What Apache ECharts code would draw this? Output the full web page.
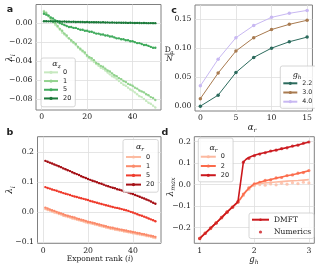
<!DOCTYPE html>
<html><head><meta charset="utf-8">
<script src="https://cdn.jsdelivr.net/npm/echarts@6/dist/echarts.min.js"></script>
<style>html,body{margin:0;padding:0;background:#fff}#c{width:315px;height:265px}</style>
</head><body><div id="c"></div>
<script>
// ---------- DATA ----------
const rank = [1,2,3,4,5,6,7,8,9,10,11,12,13,14,15,16,17,18,19,20,21,22,23,24,25,26,27,28,29,30,31,32,33,34,35,36,37,38,39,40,41,42,43,44,45,46,47,48,49,50];

// panel a: alpha_z
const alphaZ = ['0','1','5','20'];
const a0 = [0.013,0.010,0.007,0.005,0.001,-0.002,-0.004,-0.007,-0.010,-0.012,-0.014,-0.016,-0.019,-0.021,-0.023,-0.026,-0.028,-0.030,-0.032,-0.035,-0.037,-0.039,-0.041,-0.043,-0.045,-0.047,-0.048,-0.050,-0.052,-0.054,-0.056,-0.057,-0.059,-0.061,-0.063,-0.065,-0.066,-0.068,-0.070,-0.071,-0.073,-0.075,-0.077,-0.078,-0.080,-0.082,-0.084,-0.085,-0.087,-0.089];
const a1 = [0.012,0.011,0.008,0.005,0.002,0.000,-0.003,-0.006,-0.008,-0.011,-0.013,-0.016,-0.018,-0.020,-0.022,-0.025,-0.027,-0.029,-0.031,-0.034,-0.036,-0.037,-0.039,-0.042,-0.043,-0.045,-0.046,-0.048,-0.050,-0.051,-0.053,-0.055,-0.056,-0.058,-0.059,-0.061,-0.062,-0.064,-0.065,-0.066,-0.068,-0.069,-0.071,-0.072,-0.073,-0.075,-0.076,-0.078,-0.079,-0.081];
const a5 = [0.010,0.009,0.008,0.006,0.005,0.003,0.002,0.000,-0.001,-0.002,-0.003,-0.004,-0.004,-0.005,-0.005,-0.006,-0.007,-0.007,-0.008,-0.008,-0.009,-0.009,-0.010,-0.011,-0.011,-0.012,-0.012,-0.013,-0.013,-0.014,-0.014,-0.015,-0.016,-0.016,-0.017,-0.017,-0.018,-0.018,-0.019,-0.019,-0.020,-0.021,-0.021,-0.022,-0.023,-0.023,-0.024,-0.025,-0.026,-0.026];
const a20 = [0.0020,0.0021,0.0019,0.0020,0.0018,0.0019,0.0017,0.0018,0.0016,0.0017,0.0015,0.0016,0.0014,0.0015,0.0013,0.0014,0.0012,0.0013,0.0011,0.0012,0.0010,0.0011,0.0010,0.0009,0.0010,0.0008,0.0009,0.0007,0.0008,0.0006,0.0007,0.0006,0.0005,0.0006,0.0004,0.0005,0.0004,0.0003,0.0004,0.0003,0.0002,0.0003,0.0002,0.0001,0.0002,0.0001,0.0000,0.0001,0.0000,0.0000];

// panel b: alpha_r
const alphaRb = ['0','1','5','20'];
const b0 = [0.010,0.007,0.005,0.002,-0.001,-0.003,-0.006,-0.008,-0.012,-0.014,-0.016,-0.018,-0.021,-0.023,-0.025,-0.027,-0.029,-0.031,-0.034,-0.036,-0.037,-0.039,-0.041,-0.043,-0.045,-0.047,-0.049,-0.051,-0.053,-0.055,-0.056,-0.058,-0.059,-0.061,-0.062,-0.064,-0.065,-0.067,-0.068,-0.070,-0.071,-0.073,-0.074,-0.076,-0.077,-0.079,-0.080,-0.082,-0.084,-0.086];
const b1 = [0.015,0.012,0.009,0.006,0.004,0.001,-0.002,-0.004,-0.007,-0.010,-0.012,-0.014,-0.016,-0.018,-0.021,-0.023,-0.025,-0.027,-0.029,-0.032,-0.033,-0.035,-0.037,-0.039,-0.041,-0.043,-0.045,-0.047,-0.049,-0.051,-0.052,-0.054,-0.055,-0.057,-0.058,-0.060,-0.061,-0.063,-0.064,-0.066,-0.067,-0.069,-0.070,-0.072,-0.073,-0.075,-0.077,-0.078,-0.080,-0.082];
const b5 = [0.083,0.080,0.078,0.075,0.073,0.071,0.068,0.066,0.063,0.061,0.059,0.057,0.054,0.052,0.050,0.048,0.046,0.044,0.042,0.040,0.037,0.035,0.033,0.031,0.029,0.027,0.025,0.023,0.021,0.019,0.017,0.015,0.014,0.012,0.010,0.008,0.006,0.004,0.001,-0.001,-0.004,-0.007,-0.010,-0.012,-0.015,-0.018,-0.021,-0.024,-0.027,-0.030];
const b20 = [0.170,0.167,0.164,0.161,0.158,0.155,0.152,0.149,0.145,0.142,0.139,0.136,0.132,0.129,0.126,0.123,0.119,0.116,0.113,0.110,0.107,0.104,0.102,0.099,0.096,0.094,0.091,0.088,0.086,0.083,0.081,0.079,0.076,0.074,0.072,0.069,0.067,0.065,0.062,0.060,0.057,0.054,0.051,0.048,0.045,0.042,0.039,0.035,0.031,0.028];

// panel c: D_a/N vs alpha_r
const alphaRc = [0,2.5,5,7.5,10,12.5,15];
const ghLabels = ['2.2','3.0','4.0'];
const c22 = [0.000,0.019,0.058,0.084,0.100,0.111,0.119];
const c30 = [0.013,0.057,0.095,0.118,0.132,0.141,0.148];
const c40 = [0.035,0.081,0.118,0.139,0.153,0.160,0.165];

// panel d: lambda_max vs g_h
const alphaRd = ['0','2','20'];
const dmftXa = [1.0,1.1,1.2,1.3,1.4,1.5,1.6,1.7,1.75,1.8,1.85,1.9,1.95,2.0,2.1,2.2,2.3,2.4,2.5,2.6,2.7,2.8,2.9,3.0];
const dmft0 = [-0.250,-0.226,-0.202,-0.178,-0.153,-0.128,-0.104,-0.080,-0.065,-0.048,-0.032,-0.019,-0.009,-0.001,0.005,0.008,0.010,0.012,0.014,0.016,0.018,0.019,0.021,0.023];
const dmft2 = [-0.250,-0.226,-0.202,-0.178,-0.153,-0.128,-0.104,-0.080,-0.064,-0.046,-0.030,-0.017,-0.006,0.003,0.011,0.018,0.024,0.030,0.035,0.041,0.046,0.052,0.058,0.064];
const dmftXb = [1.0,1.1,1.2,1.3,1.4,1.5,1.6,1.7,1.8,1.85,1.9,2.0,2.1,2.2,2.3,2.4,2.5,2.6,2.7,2.8,2.9,3.0];
const dmft20 = [-0.250,-0.226,-0.202,-0.178,-0.153,-0.128,-0.104,-0.080,0.105,0.118,0.126,0.136,0.143,0.149,0.155,0.161,0.166,0.172,0.178,0.184,0.191,0.198];
const numX = [1.0,1.1,1.2,1.3,1.4,1.5,1.6,1.7,1.8,1.9,2.0,2.1,2.2,2.3,2.4,2.5,2.6,2.7,2.8,2.9,3.0];
const num0 = [-0.248,-0.224,-0.203,-0.176,-0.152,-0.129,-0.102,-0.083,-0.050,-0.022,-0.004,0.000,-0.003,0.003,-0.001,0.006,0.002,0.009,0.005,0.011,0.008];
const num2 = [-0.251,-0.225,-0.204,-0.177,-0.155,-0.127,-0.105,-0.081,-0.044,-0.015,0.004,0.010,0.020,0.022,0.031,0.033,0.042,0.045,0.053,0.056,0.065];
const num20 = [-0.250,-0.227,-0.201,-0.179,-0.152,-0.128,-0.105,-0.079,0.104,0.122,0.134,0.142,0.148,0.156,0.160,0.167,0.171,0.179,0.183,0.192,0.198];

// tick labels
const ticksAX = [0,20,40], ticksAY = [-0.08,-0.06,-0.04,-0.02,0];
const ticksBY = [-0.1,0,0.1,0.2];
const ticksCX = [0,5,10,15], ticksCY = [0,0.05,0.10,0.15];
const ticksDX = [1,2,3], ticksDY = [-0.2,-0.1,0,0.1,0.2];

// ---------- STYLE ----------
const greens = ['#c7e9c0','#93d38f','#41ab5d','#1b7a3a'];
const reds = ['#fcbba1','#fb8a6a','#ef3b2c','#a50f15'];
const redsD = ['#fcb9a0','#fb6a4a','#cb181d'];
const cCols = ['#2c6b5d','#a87a4f','#c8b8f2'];
const SERIF = 'DejaVu Serif', SANS = 'DejaVu Sans';
const TXT = '#222';
const TICK = 7.7;

const ctx = document.createElement('canvas').getContext('2d');
function tw(t, style, size, fam){ ctx.font = style+' '+size+'px "'+fam+'"'; return ctx.measureText(t).width; }
function tx(x,y,text,size,o){ o=o||{}; return {type:'text', x:x, y:y, z:100, style:{text:text, fontSize:size, fontFamily:o.fam||SERIF, fontStyle:o.st||'normal', fontWeight:o.fw||'normal', fill:TXT, textAlign:o.al||'left', textVerticalAlign:'middle'}}; }
function subLabel(cx, cy, main, sub, size, o){
  o=o||{}; const ss = o.ss||size*0.7;
  const ms = o.mst||'italic', sst = o.sst||'italic';
  const w1 = tw(main, ms, size, SERIF), w2 = tw(sub, sst, ss, SERIF);
  const x0 = -(w1+w2)/2;
  return {type:'group', x:cx, y:cy, rotation:o.rot||0, z:100, children:[
    tx(x0,0,main,size,{st:ms}), tx(x0+w1,size*0.32,sub,ss,{st:sst})]};
}
function fmt(d){ return v => (v<0?'\u2212':'') + Math.abs(v).toFixed(d); }

function ax(gi,min,max,ticks,dec){ return {type:'value', gridIndex:gi, min:min, max:max,
  axisLine:{show:false}, axisTick:{show:false, customValues:ticks},
  axisLabel:{customValues:ticks, formatter:fmt(dec), fontFamily:SERIF, fontSize:TICK, color:TXT, margin:3.5},
  splitLine:{show:true, lineStyle:{color:'#dedede', width:0.8}}}; }

function pair(xs, ys){ return xs.map((x,i)=>[x, ys[i]]); }
function rankLine(name, ys, col, ai){ return {name:name, type:'line', xAxisIndex:ai, yAxisIndex:ai, data:pair(rank,ys),
  symbol:'circle', symbolSize:2.4, showSymbol:true, lineStyle:{width:1, color:col}, itemStyle:{color:col}}; }

const series = [];
[a0,a1,a5,a20].forEach((ys,i)=>series.push(rankLine('a'+alphaZ[i], ys, greens[i], 0)));
[b0,b1,b5,b20].forEach((ys,i)=>series.push(rankLine('b'+alphaRb[i], ys, reds[i], 1)));
[c22,c30,c40].forEach((ys,i)=>series.push({name:'c'+ghLabels[i], type:'line', xAxisIndex:2, yAxisIndex:2, data:pair(alphaRc,ys),
  symbol:'circle', symbolSize:3.5, lineStyle:{width:1, color:cCols[i]}, itemStyle:{color:cCols[i]}}));
[[dmftXa,dmft0],[dmftXa,dmft2],[dmftXb,dmft20]].forEach((p,i)=>series.push({name:'d'+alphaRd[i], type:'line', xAxisIndex:3, yAxisIndex:3,
  data:pair(p[0],p[1]), symbol:'none', lineStyle:{width:1.6, color:redsD[i]}, itemStyle:{color:redsD[i]}}));
[num0,num2,num20].forEach((ys,i)=>series.push({name: i===2?'Numerics':'n'+alphaRd[i], type:'scatter', xAxisIndex:3, yAxisIndex:3,
  data:pair(numX,ys), symbolSize:3.2, itemStyle:{color:redsD[i]}}));
series.push({name:'DMFT', type:'line', xAxisIndex:3, yAxisIndex:3, data:[], symbol:'none', lineStyle:{width:1.6,color:redsD[2]}, itemStyle:{color:redsD[2]}});

const legBase = {orient:'vertical', backgroundColor:'rgba(255,255,255,0.85)', borderColor:'#cccccc', borderWidth:0.8, borderRadius:2,
  selectedMode:false, formatter:n=>n.slice(1)};
const legends = [
  Object.assign({}, legBase, {left:41, top:58, padding:[10,4,4,2], itemWidth:14, itemHeight:4, itemGap:0,
    data:alphaZ.map(a=>'a'+a), textStyle:{fontFamily:SANS, fontSize:6.5, color:TXT, lineHeight:8.7}}),
  Object.assign({}, legBase, {left:123, top:139.5, padding:[12.9,4,3,2], itemWidth:15, itemHeight:4, itemGap:0,
    data:alphaRb.map(a=>'b'+a), textStyle:{fontFamily:SANS, fontSize:6.5, color:TXT, lineHeight:9.2}}),
  Object.assign({}, legBase, {left:280.3, top:66, padding:[12.7,4,2,2], itemWidth:14, itemHeight:4, itemGap:0,
    data:ghLabels.map(a=>'c'+a), textStyle:{fontFamily:SANS, fontSize:6.3, color:TXT, lineHeight:9.2}}),
  Object.assign({}, legBase, {left:198.3, top:138, padding:[14.1,4,2,1.5], itemWidth:15, itemHeight:4, itemGap:0,
    data:alphaRd.map(a=>'d'+a), textStyle:{fontFamily:SANS, fontSize:6.5, color:TXT, lineHeight:9.25}}),
  Object.assign({}, legBase, {left:249, top:213, padding:[2.2,3,2,2], itemWidth:17, itemHeight:3.2, itemGap:3.3,
    formatter:n=>n, data:['DMFT','Numerics'], textStyle:{fontFamily:SERIF, fontSize:7.5, color:TXT, lineHeight:9}})
];

const graphics = [
  tx(10,10,'a',9.5,{fam:SANS, fw:'bold', al:'center'}),
  tx(10,133,'b',9.5,{fam:SANS, fw:'bold', al:'center'}),
  tx(174,10.5,'c',9.5,{fam:SANS, fw:'bold', al:'center'}),
  tx(165,132.5,'d',9.5,{fam:SANS, fw:'bold', al:'center'}),
  subLabel(10,58,'\u03bb','i',9,{rot:Math.PI/2}),
  subLabel(10,190,'\u03bb','i',9,{rot:Math.PI/2}),
  subLabel(170.5,187,'\u03bb','max',9,{rot:Math.PI/2}),
  subLabel(56.5,64.3,'\u03b1','z',8),
  subLabel(140,146.5,'\u03b1','r',8),
  subLabel(297,74.5,'g','h',8),
  subLabel(213.5,147.5,'\u03b1','r',8),
  subLabel(252,127.5,'\u03b1','r',8.5),
  subLabel(254,259.5,'g','h',8.5),
  // D_a / N fraction
  tx(164.8,50.3,'D',7.5),
  tx(170.3,52.8,'a',5.5,{st:'italic'}),
  {type:'line', z:100, shape:{x1:164.6,y1:54.2,x2:174.6,y2:54.2}, style:{stroke:TXT, lineWidth:0.6}},
  tx(169.6,58.6,'N',7.5,{st:'italic', al:'center'}),
  {type:'text', x:100, y:259.5, z:100, style:{text:'{r|Exponent rank (}{i|i}{r|)}', textAlign:'center', textVerticalAlign:'middle',
    rich:{r:{fontFamily:SERIF, fontSize:7.5, fill:TXT}, i:{fontFamily:SERIF, fontStyle:'italic', fontSize:7.5, fill:TXT}}}}
];

const gridStyle = {show:true, borderColor:'#808080', borderWidth:1, backgroundColor:'#fff', containLabel:false};
const option = {
  animation:false,
  grid:[
    Object.assign({left:36, top:4.5, width:125, height:105.5}, gridStyle),
    Object.assign({left:37.5, top:136.7, width:123.5, height:106.6}, gridStyle),
    Object.assign({left:195, top:5, width:119, height:106}, gridStyle),
    Object.assign({left:194.3, top:136.7, width:120, height:106.6}, gridStyle)
  ],
  xAxis:[ ax(0,-2.5,52.5,ticksAX,0), ax(1,-2.5,52.5,ticksAX,0), ax(2,-0.75,15.75,ticksCX,0), ax(3,0.9,3.1,ticksDX,0) ],
  yAxis:[ ax(0,-0.0916,0.0197,ticksAY,2), ax(1,-0.1033,0.25,ticksBY,1), ax(2,-0.0083,0.1743,ticksCY,2), ax(3,-0.2725,0.2225,ticksDY,1) ],
  legend:legends,
  series:series,
  graphic:graphics
};
const chart = echarts.init(document.getElementById('c'), null, {renderer:'canvas'});
chart.setOption(option);
</script></body></html>
